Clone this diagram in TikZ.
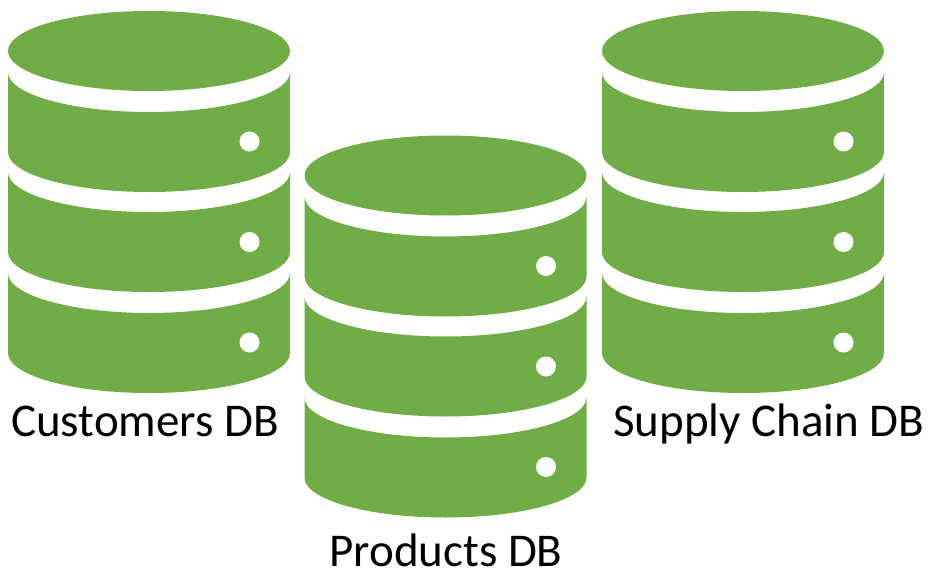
\documentclass[tikz,border=0pt]{standalone}
\usepackage{fontspec}
\setmainfont{Carlito}
\definecolor{dbgreen}{HTML}{70AD47}
\tikzset{
  dbfill/.style={fill=dbgreen,draw=none},
  dbdot/.style={fill=white,draw=none},
  dblabel/.style={font=\fontsize{47}{56}\selectfont,text=black,anchor=base,inner sep=0pt},
  pics/database/.style={code={
    \fill[dbfill] (8,51) arc[start angle=180,end angle=-180,x radius=141,y radius=40] -- cycle;
    \foreach \t/\d in {72/141.5,172/242,273/342.5}{
      \fill[dbfill] (8,\t) arc[start angle=180,end angle=0,x radius=141,y radius=40]
        -- ++(0,80) arc[start angle=0,end angle=180,x radius=141,y radius=40] -- cycle;
      \fill[dbdot] (249.5,\d) circle[radius=10];
    }
  }}
}
\begin{document}
\begin{tikzpicture}[x=1pt,y=-1pt]
\useasboundingbox (0,0) rectangle (932,578);
\pic at (0,0) {database};
\pic at (296.5,124.5) {database};
\pic at (594,0) {database};
\node[dblabel] (customers) at (145,436) {Customers DB};
\node[dblabel] (supply) at (769,436) {Supply Chain DB};
\node[dblabel] (products) at (446,566) {Products DB};
\end{tikzpicture}
\end{document}
